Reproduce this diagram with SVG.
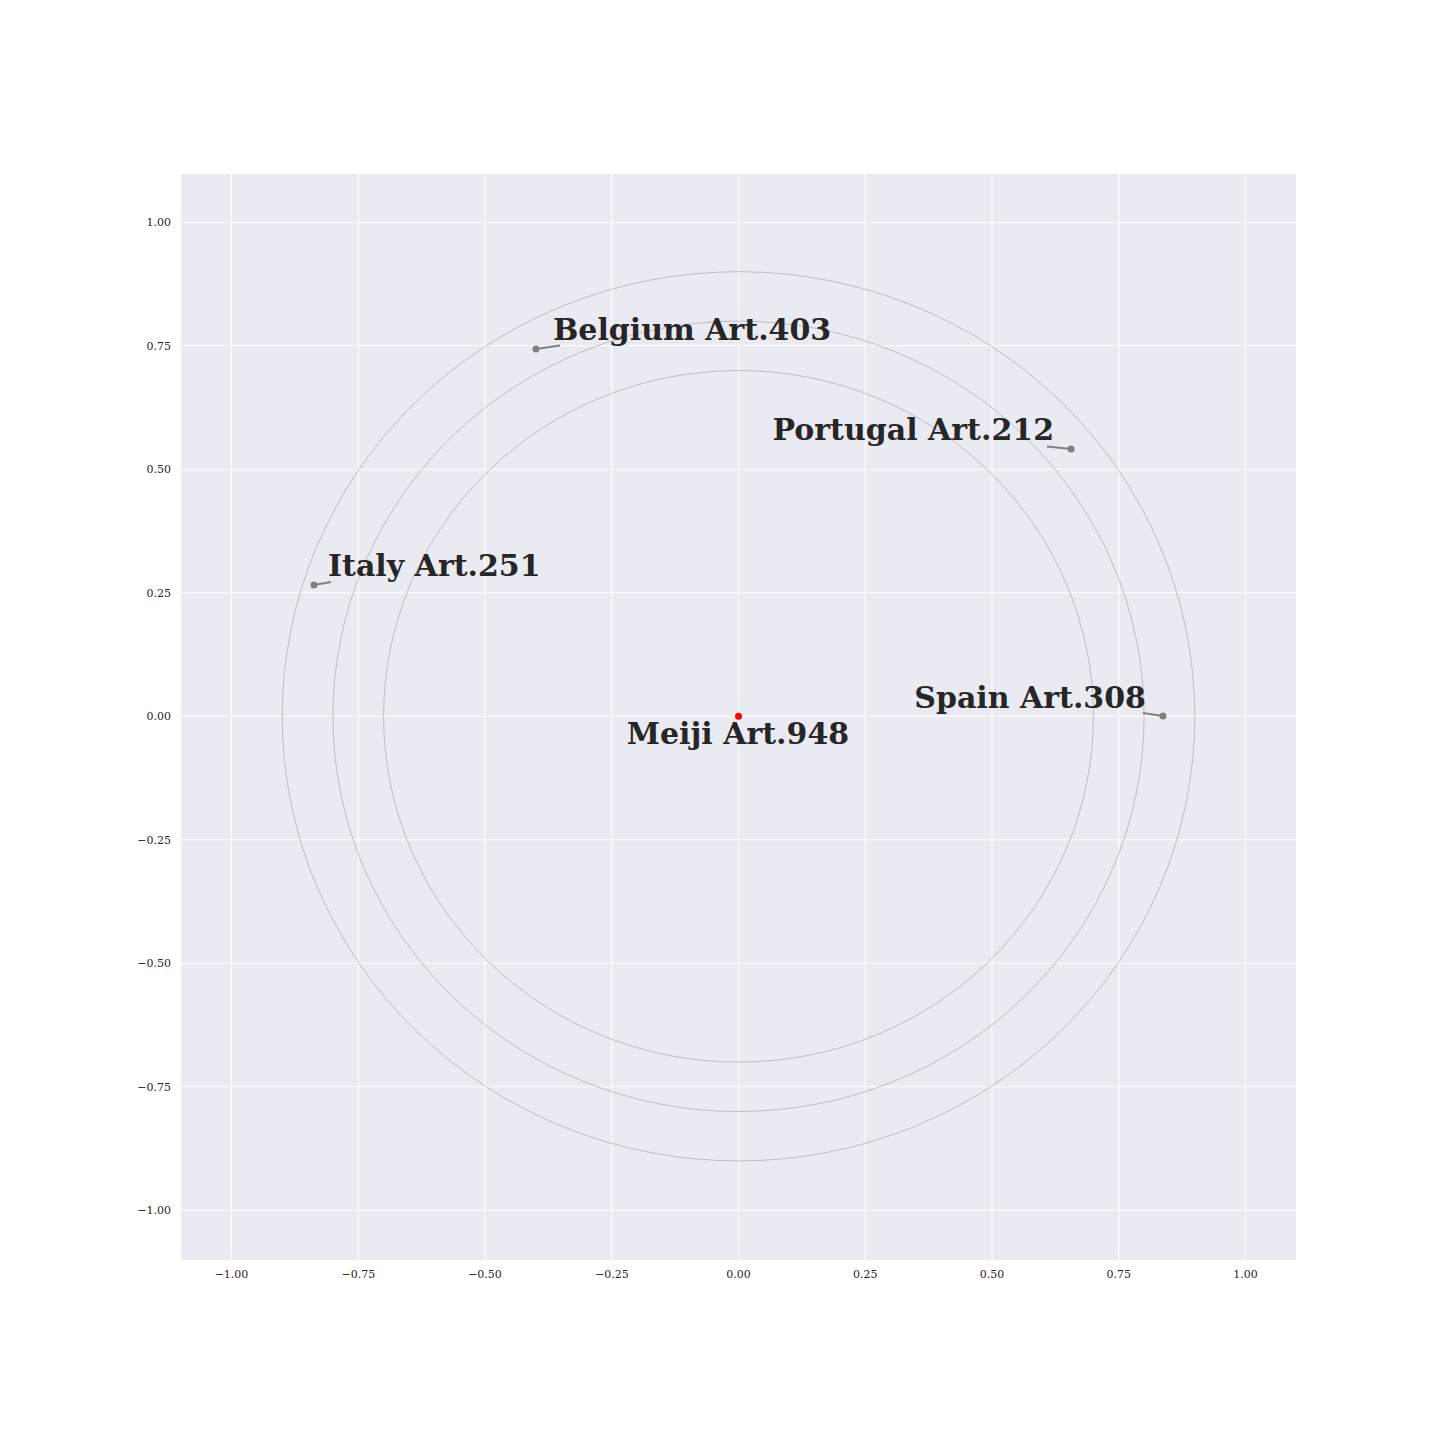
<svg xmlns="http://www.w3.org/2000/svg" width="1440" height="1440" viewBox="0 0 1440 1440">
<style>
.grid{stroke:#ffffff;stroke-width:1.1}
.ring{fill:none;stroke:#a0a0a0;stroke-width:0.6}
.tick{font-family:"DejaVu Serif",serif;font-size:11px;fill:#262626}
.lbl{font-family:"DejaVu Serif",serif;font-weight:bold;font-size:30px;fill:#262626}
.lead{stroke:#808080;stroke-width:2}
.pt{fill:#808080}
</style>
<rect width="1440" height="1440" fill="#ffffff"/>
<rect x="181" y="174" width="1115" height="1086" fill="#EAEAF2"/>
<g id="grid">
<line class="grid" x1="231.5" y1="174" x2="231.5" y2="1260"/>
<line class="grid" x1="358.3" y1="174" x2="358.3" y2="1260"/>
<line class="grid" x1="485" y1="174" x2="485" y2="1260"/>
<line class="grid" x1="611.8" y1="174" x2="611.8" y2="1260"/>
<line class="grid" x1="738.5" y1="174" x2="738.5" y2="1260"/>
<line class="grid" x1="865.3" y1="174" x2="865.3" y2="1260"/>
<line class="grid" x1="992" y1="174" x2="992" y2="1260"/>
<line class="grid" x1="1118.8" y1="174" x2="1118.8" y2="1260"/>
<line class="grid" x1="1245.5" y1="174" x2="1245.5" y2="1260"/>
<line class="grid" x1="181" y1="222.3" x2="1296" y2="222.3"/>
<line class="grid" x1="181" y1="345.8" x2="1296" y2="345.8"/>
<line class="grid" x1="181" y1="469.3" x2="1296" y2="469.3"/>
<line class="grid" x1="181" y1="592.8" x2="1296" y2="592.8"/>
<line class="grid" x1="181" y1="716.3" x2="1296" y2="716.3"/>
<line class="grid" x1="181" y1="839.8" x2="1296" y2="839.8"/>
<line class="grid" x1="181" y1="963.3" x2="1296" y2="963.3"/>
<line class="grid" x1="181" y1="1086.8" x2="1296" y2="1086.8"/>
<line class="grid" x1="181" y1="1210.3" x2="1296" y2="1210.3"/>
</g>
<g id="ticks">
<text class="tick" x="171" y="226" text-anchor="end">1.00</text>
<text class="tick" x="171" y="350" text-anchor="end">0.75</text>
<text class="tick" x="171" y="473" text-anchor="end">0.50</text>
<text class="tick" x="171" y="597" text-anchor="end">0.25</text>
<text class="tick" x="171" y="720" text-anchor="end">0.00</text>
<text class="tick" x="171" y="844" text-anchor="end">−0.25</text>
<text class="tick" x="171" y="967" text-anchor="end">−0.50</text>
<text class="tick" x="171" y="1091" text-anchor="end">−0.75</text>
<text class="tick" x="171" y="1214" text-anchor="end">−1.00</text>
<text class="tick" x="231.5" y="1278" text-anchor="middle">−1.00</text>
<text class="tick" x="358.3" y="1278" text-anchor="middle">−0.75</text>
<text class="tick" x="485" y="1278" text-anchor="middle">−0.50</text>
<text class="tick" x="611.8" y="1278" text-anchor="middle">−0.25</text>
<text class="tick" x="738.5" y="1278" text-anchor="middle">0.00</text>
<text class="tick" x="865.3" y="1278" text-anchor="middle">0.25</text>
<text class="tick" x="992" y="1278" text-anchor="middle">0.50</text>
<text class="tick" x="1118.8" y="1278" text-anchor="middle">0.75</text>
<text class="tick" x="1245.5" y="1278" text-anchor="middle">1.00</text>
</g>
<g id="rings">
<ellipse class="ring" cx="738.5" cy="716.3" rx="456.3" ry="444.6"/>
<ellipse class="ring" cx="738.5" cy="716.3" rx="405.6" ry="395.2"/>
<ellipse class="ring" cx="738.5" cy="716.3" rx="354.9" ry="345.8"/>
</g>
<g id="connectors">
<line class="lead" x1="536" y1="349" x2="560" y2="345.5"/>
<line class="lead" x1="1071" y1="449" x2="1047" y2="446.5"/>
<line class="lead" x1="314" y1="585" x2="331" y2="582"/>
<line class="lead" x1="1163" y1="716" x2="1143" y2="713"/>
</g>
<g id="node-belgium">
<circle class="pt" cx="536" cy="349" r="3.5"/>
<text class="lbl" x="553" y="340">Belgium Art.403</text>
</g>
<g id="node-portugal">
<circle class="pt" cx="1071" cy="449" r="3.5"/>
<text class="lbl" x="1054" y="440" text-anchor="end">Portugal Art.212</text>
</g>
<g id="node-italy">
<circle class="pt" cx="314" cy="585" r="3.5"/>
<text class="lbl" x="328" y="576">Italy Art.251</text>
</g>
<g id="node-spain">
<circle class="pt" cx="1163" cy="716" r="3.5"/>
<text class="lbl" x="1146" y="708" text-anchor="end">Spain Art.308</text>
</g>
<g id="node-meiji">
<circle cx="738.5" cy="716.3" r="3.5" fill="#ff0000"/>
<text class="lbl" x="738" y="744" text-anchor="middle">Meiji Art.948</text>
</g>
</svg>
